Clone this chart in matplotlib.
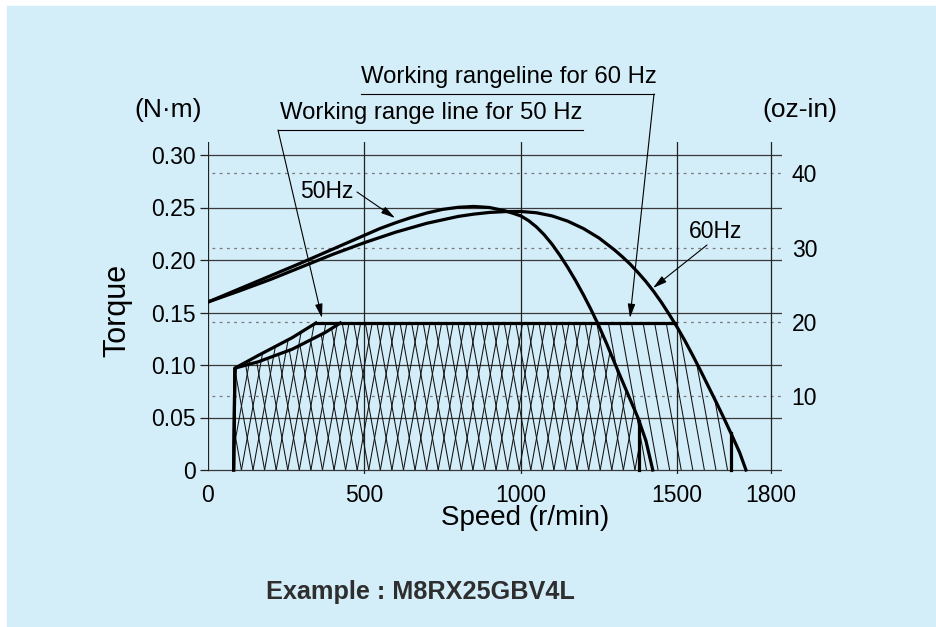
import numpy as np
import matplotlib
matplotlib.use("Agg")
import matplotlib.pyplot as plt
from matplotlib.patches import Rectangle, Polygon
from matplotlib.collections import LineCollection

plt.rcParams['font.family'] = ['Liberation Sans', 'DejaVu Sans']

# ---------------- data ----------------
speed50 = [0, 100, 200, 300, 400, 500, 550, 600, 650, 700, 750, 800, 850, 900, 950,
           975, 1000, 1025, 1050, 1075, 1100, 1125, 1150, 1175, 1200, 1225, 1250,
           1275, 1300, 1325, 1350, 1375, 1400, 1422]
torque50 = [0.160, 0.1725, 0.185, 0.1975, 0.2105, 0.2235, 0.2300, 0.2355, 0.2405,
            0.2448, 0.2482, 0.2502, 0.2510, 0.2500, 0.2468, 0.2445, 0.2420, 0.2375,
            0.2315, 0.2240, 0.2150, 0.2045, 0.1930, 0.1805, 0.1670, 0.1525, 0.1370,
            0.1200, 0.1020, 0.0845, 0.0670, 0.0495, 0.0280, 0.0]

speed60 = [0, 100, 200, 300, 400, 500, 600, 700, 800, 850, 900, 950, 1000, 1050,
           1100, 1150, 1200, 1250, 1300, 1325, 1350, 1375, 1400, 1425, 1450, 1475,
           1500, 1525, 1550, 1575, 1600, 1625, 1650, 1675, 1700, 1720]
torque60 = [0.160, 0.1705, 0.1815, 0.1935, 0.2055, 0.2165, 0.2265, 0.2350, 0.2415,
            0.2437, 0.2453, 0.2461, 0.2462, 0.2450, 0.2420, 0.2370, 0.2300, 0.2210,
            0.2095, 0.2030, 0.1960, 0.1880, 0.1795, 0.1700, 0.1595, 0.1480, 0.1360,
            0.1230, 0.1090, 0.0945, 0.0795, 0.0645, 0.0490, 0.0330, 0.0165, 0.0]

# working range: lower-left boundaries
wr50_left_speed = [82, 86, 160, 269, 345]
wr50_left_torque = [0.0, 0.097, 0.109, 0.126, 0.140]
wr60_left_speed = [82, 86, 160, 269, 375, 423]
wr60_left_torque = [0.0, 0.097, 0.103, 0.115, 0.131, 0.140]
wr_top = 0.140
wr50_cutoff = 1378
wr60_cutoff = 1672

xticks = [0, 500, 1000, 1500, 1800]
yticks = [0, 0.05, 0.10, 0.15, 0.20, 0.25, 0.30]
ytick_labels = ['0', '0.05', '0.10', '0.15', '0.20', '0.25', '0.30']
oz_ticks = [10, 20, 30, 40]
NM_TO_OZIN = 141.6

# ---------------- figure ----------------
W, H = 937, 627
fig = plt.figure(figsize=(W / 100, H / 100), dpi=100)
fig.patch.set_facecolor('white')
blue = '#d3edf9'
fig.patches.append(Rectangle((7 / W, 0), (W - 7) / W, (H - 6) / H,
                             transform=fig.transFigure, color=blue, zorder=-10))

ax_l, ax_r, ax_t, ax_b = 208, 782, 142, 474
ax = fig.add_axes([ax_l / W, (H - ax_b) / H, (ax_r - ax_l) / W, (ax_b - ax_t) / H])
ax.set_facecolor('none')
px_per_rpm = (771 - 208) / 1800.0
px_per_nm = (470 - 155) / 0.30
ax.set_xlim(0, (ax_r - ax_l) / px_per_rpm)
ax.set_ylim(-(ax_b - 470) / px_per_nm, (470 - ax_t) / px_per_nm)
for s in ax.spines.values():
    s.set_visible(False)

def X(px):
    return (px - ax_l) / px_per_rpm

def Y(py):
    return (470 - py) / px_per_nm

# grid lines
for y in yticks:
    ax.axhline(y, 0, 1, color='#3a3a3a', lw=0.9, zorder=1)
for oz in oz_ticks:
    ax.plot([X(212), X(782)], [oz / NM_TO_OZIN] * 2, color='#777777', lw=0.9,
            ls=(0, (2.2, 3.6)), zorder=1)
ax.axvline(0, (ax_b - 470) / (ax_b - ax_t), 1, color='#222222', lw=0.9, zorder=1)
for x in xticks[1:]:
    ax.axvline(x, 0, 1, color='#222222', lw=0.9, zorder=1)

ax.set_xticks(xticks)
ax.set_xticklabels([str(v) for v in xticks])
ax.tick_params(axis='x', length=0, pad=7, labelsize=16.5)
ax.set_yticks(yticks)
ax.set_yticklabels(ytick_labels)
ax.tick_params(axis='y', length=6, width=0.9, color='#222222', pad=3, labelsize=16.5)

sec = ax.secondary_yaxis('right', functions=(lambda v: v * NM_TO_OZIN,
                                             lambda v: v / NM_TO_OZIN))
sec.set_yticks(oz_ticks)
sec.tick_params(length=0, pad=7, labelsize=16.5)
sec.spines['right'].set_visible(False)

# ---------------- working ranges ----------------
def working_polygon(left_s, left_t, cs, ct, cutoff):
    cs = np.asarray(cs, float)
    ct = np.asarray(ct, float)
    ipk = int(np.argmax(ct))
    ds, dt = cs[ipk:], ct[ipk:]
    s_int = np.interp(-wr_top, -dt, ds)
    t_cut = np.interp(cutoff, cs, ct)
    mid = [(s, t) for s, t in zip(ds, dt) if s_int < s < cutoff]
    pts = list(zip(left_s, left_t)) + [(s_int, wr_top)] + mid + \
        [(cutoff, t_cut), (cutoff, 0.0)]
    return np.array(pts), s_int, t_cut

poly50, s50_int, t50_cut = working_polygon(wr50_left_speed, wr50_left_torque,
                                           speed50, torque50, wr50_cutoff)
poly60, s60_int, t60_cut = working_polygon(wr60_left_speed, wr60_left_torque,
                                           speed60, torque60, wr60_cutoff)

slope = 0.14 / 85.0
step = 37.0
def hatch(poly, sign):
    patch = Polygon(poly, closed=True, fill=False, edgecolor='none')
    ax.add_patch(patch)
    segs = []
    for c in np.arange(-300, 2100, step):
        t0, t1 = 0.0, 0.16
        if sign > 0:
            segs.append([(c, t0), (c + t1 / slope, t1)])
        else:
            segs.append([(c, t0), (c - t1 / slope, t1)])
    lc = LineCollection(segs, colors='#111111', linewidths=0.75, zorder=2)
    ax.add_collection(lc)
    lc.set_clip_path(patch)

hatch(poly50, +1)
hatch(poly60, -1)

thick = 2.3
ax.plot(wr50_left_speed, wr50_left_torque, color='black', lw=thick, zorder=4)
ax.plot(wr60_left_speed, wr60_left_torque, color='black', lw=thick, zorder=4)
ax.plot([wr50_left_speed[-1], s60_int], [wr_top, wr_top], color='black', lw=thick, zorder=4)
ax.plot([wr50_cutoff, wr50_cutoff], [0, t50_cut], color='black', lw=thick, zorder=4)
ax.plot([wr60_cutoff, wr60_cutoff], [0, t60_cut], color='black', lw=thick, zorder=4)

# torque curves
ax.plot(speed50, torque50, color='black', lw=thick, zorder=5, solid_joinstyle='round')
ax.plot(speed60, torque60, color='black', lw=thick, zorder=5, solid_joinstyle='round')

# ---------------- annotations ----------------
arrow = dict(arrowstyle='-|>,head_length=0.6,head_width=0.16', color='black',
             lw=0.8, shrinkA=0, shrinkB=0, mutation_scale=14)
ax.text(X(327), Y(191), '50Hz', fontsize=16.5, ha='center', va='center')
ax.annotate('', xy=(X(395), Y(218)), xytext=(X(357), Y(192)), arrowprops=arrow,
            annotation_clip=False)
ax.text(X(716), Y(231), '60Hz', fontsize=16.5, ha='center', va='center')
ax.annotate('', xy=(X(653), Y(288)), xytext=(X(707), Y(245)), arrowprops=arrow,
            annotation_clip=False)

# working range leaders
ax.text(X(280), Y(119), 'Working range line for 50 Hz', fontsize=17.2, ha='left',
        va='baseline')
ax.plot([X(583), X(278)], [Y(130), Y(130)], color='black', lw=0.8, clip_on=False)
ax.annotate('', xy=(X(322), Y(318)), xytext=(X(278), Y(130)), arrowprops=arrow,
            annotation_clip=False)
ax.text(X(361), Y(83), 'Working rangeline for 60 Hz', fontsize=17.2, ha='left',
        va='baseline')
ax.plot([X(361), X(654)], [Y(94), Y(94)], color='black', lw=0.8, clip_on=False)
ax.annotate('', xy=(X(630), Y(318)), xytext=(X(654), Y(94)), arrowprops=arrow,
            annotation_clip=False)

ax.text(X(168), Y(110), '(N·m)', fontsize=19, ha='center', va='center')
ax.text(X(800), Y(110), '(oz-in)', fontsize=19, ha='center', va='center')

ax.set_ylabel('Torque', fontsize=22)
ax.yaxis.set_label_coords((117 - ax_l) / (ax_r - ax_l), (ax_b - 310) / (ax_b - ax_t))
ax.yaxis.label.set_va('center')
ax.set_xlabel('Speed (r/min)', fontsize=20)
ax.xaxis.set_label_coords((525 - ax_l) / (ax_r - ax_l), (ax_b - 518) / (ax_b - ax_t))
ax.xaxis.label.set_va('center')

fig.text(266 / W, (H - 592) / H, 'Example : M8RX25GBV4L', fontsize=18.2,
         fontweight='bold', color='#2e2e2e', ha='left', va='center')

fig.savefig('out.png', dpi=100)
